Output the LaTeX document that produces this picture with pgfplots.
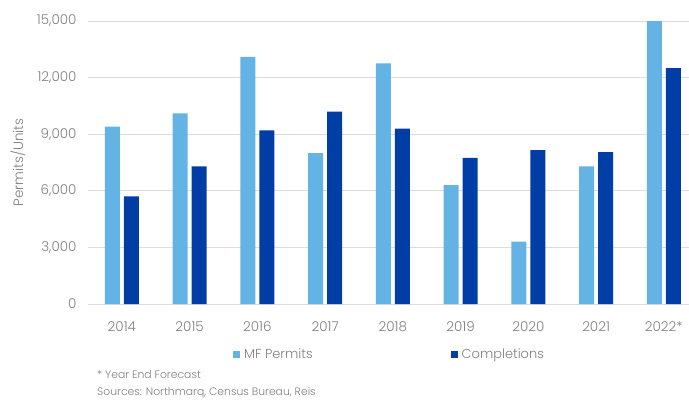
\documentclass[border=0pt]{standalone}
\usepackage{fontspec}
\setmainfont{Poppins}[UprightFont=* Light]
\usepackage{pgfplots}
\pgfplotsset{compat=1.18}
\definecolor{mfblue}{RGB}{99,180,228}
\definecolor{compblue}{RGB}{0,61,165}
\definecolor{txtgray}{RGB}{128,128,128}
\definecolor{gridgray}{RGB}{220,220,220}
\begin{document}
\begin{tikzpicture}
\useasboundingbox (-88pt,-96pt) rectangle (601pt,304pt);
\begin{axis}[
  at={(0,0)}, anchor=south west,
  scale only axis, width=601pt, height=283pt,
  clip=false,
  ybar, bar width=15pt,
  xmin=-0.5, xmax=8.371, ymin=0, ymax=15000,
  ytick={0,3000,6000,9000,12000,15000},
  xtick={0,1,2,3,4,5,6,7,8},
  xticklabels={2014,2015,2016,2017,2018,2019,2020,2021,2022*},
  axis line style={draw=none},
  ymajorgrids, grid style={gridgray, line width=1pt},
  major tick length=0,
  /pgf/number format/assume math mode=true,
  /pgf/number format/1000 sep={,},
  scaled y ticks=false,
  tick label style={font=\fontsize{13.5}{15}\selectfont, text=txtgray},
  yticklabel style={xshift=-8pt},
  xticklabel style={yshift=-14pt},
  ylabel={Permits/Units},
  every axis y label/.style={at={(axis description cs:-0.1165,0.5)}, rotate=90, anchor=center,
    font=\fontsize{13.5}{15}\selectfont, text=txtgray},
  legend style={at={(axis description cs:0.5017,-0.178)}, anchor=center, draw=none, fill=none,
    font=\fontsize{13}{15}\selectfont, text=txtgray, legend columns=2,
    /tikz/every even column/.append style={column sep=136pt}},
  legend image code/.code={\fill[#1] (0pt,-3.5pt) rectangle (7pt,3.5pt);},
]
\addplot[fill=mfblue, draw=none, bar shift=-9.5pt] coordinates {
(0,9400) (1,10100) (2,13100) (3,8000) (4,12750) (5,6300) (6,3300) (7,7300) (8,15000)};
\addplot[fill=compblue, draw=none, bar shift=9.5pt] coordinates {
(0,5700) (1,7300) (2,9200) (3,10200) (4,9300) (5,7750) (6,8150) (7,8050) (8,12500)};
\legend{\hspace{2pt}MF Permits, \hspace{2pt}Completions}
\node[anchor=west, inner sep=0pt, font=\fontsize{10.8}{13}\selectfont, text=txtgray] at (axis description cs:0.015,-0.2509) {* Year End Forecast};
\node[anchor=west, inner sep=0pt, font=\fontsize{10.8}{13}\selectfont, text=txtgray] at (axis description cs:0.015,-0.3134) {Sources: Northmarq, Census Bureau, Reis};
\end{axis}
\end{tikzpicture}
\end{document}
